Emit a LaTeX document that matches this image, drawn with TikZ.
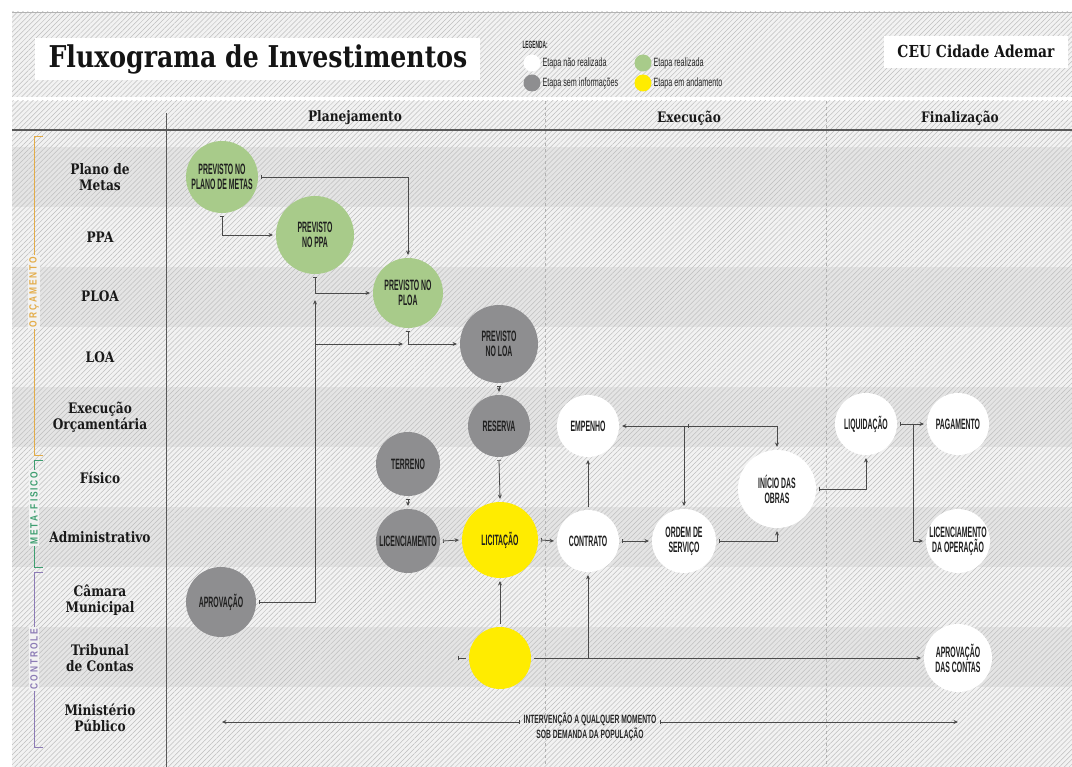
\documentclass[tikz,border=0pt]{standalone}
\usepackage{fontspec}
\setmainfont{DejaVu Serif}
\newfontfamily\hd{DejaVu Serif}[UprightFont=* Bold,FakeStretch=0.84]
\newfontfamily\cnd{Liberation Sans}[UprightFont=* Bold,FakeStretch=0.46]
\newfontfamily\cndm{Liberation Sans}[UprightFont=* Bold,FakeStretch=0.56]
\newfontfamily\cndr{Liberation Sans}[FakeStretch=0.6]
\newfontfamily\spf{Liberation Sans}[UprightFont=* Bold,FakeStretch=0.8,LetterSpace=18]
\usetikzlibrary{arrows.meta,patterns.meta}
\definecolor{cgreen}{HTML}{A8CB8A}
\definecolor{cgray}{HTML}{8E8E90}
\definecolor{cyel}{HTML}{FFEC00}
\definecolor{corange}{HTML}{E3AC48}
\definecolor{cmeta}{HTML}{3E9E70}
\definecolor{cpurp}{HTML}{8C7BB5}
\definecolor{bgl}{HTML}{F2F2F2}
\definecolor{bgd}{HTML}{E4E4E4}
\definecolor{hatch}{HTML}{BEBEBE}
\definecolor{ln}{HTML}{4A4A4A}
\begin{document}
\begin{tikzpicture}[x=1pt,y=-1pt,
  circ/.style={circle,inner sep=0pt,outer sep=3pt,align=center,text=black!88,font=\cnd\fontsize{15}{15}\selectfont},
  gr/.style={circ,fill=cgreen},
  gy/.style={circ,fill=cgray},
  yl/.style={circ,fill=cyel},
  wh/.style={circ,fill=white},
  conn/.style={draw=ln,line width=0.8pt,{Bar[width=4pt,line width=0.7pt]}-{Stealth[length=4.5pt,width=4pt]}},
  plain/.style={draw=ln,line width=0.8pt,-{Stealth[length=4.5pt,width=4pt]}},
  rowlab/.style={font=\hd\fontsize{14.5}{15.5}\selectfont,align=center,text=black!90},
  phase/.style={font=\hd\fontsize{14.5}{15}\selectfont,text=black!90},
  spine/.style={font=\spf\fontsize{10.5}{11}\selectfont,fill=bgl,inner sep=1.5pt,rotate=90},
  leg/.style={font=\cndr\fontsize{12}{12}\selectfont,text=black!85,anchor=west},
  legc/.style={circle,inner sep=0pt,minimum size=17pt},
]
\useasboundingbox (0,0) rectangle (1072,767);
% background
\fill[white] (0,0) rectangle (1072,767);
\fill[bgl] (12,12) rectangle (1072,97);
\fill[bgl] (12,101) rectangle (1072,767);
\foreach \yy in {147,267,387,507,627} \fill[bgd] (12,\yy) rectangle (1072,\yy+60);
\fill[pattern={Lines[angle=45,distance=3.5pt,line width=0.5pt]},pattern color=hatch] (12,12) rectangle (1072,97);
\fill[pattern={Lines[angle=45,distance=3.5pt,line width=0.5pt]},pattern color=hatch] (12,101) rectangle (1072,767);
\draw[gray!60,line width=0.6pt] (12,12) -- (1072,12);
% grid lines
\draw[black!30,dashed,line width=0.5pt] (545,101) -- (545,767);
\draw[black!30,dashed,line width=0.5pt] (826,101) -- (826,767);
\draw[black!65,line width=1.2pt] (12,130) -- (1072,130);
\draw[black!65,line width=1pt] (166,113) -- (166,767);
% title
\fill[white] (35,38) rectangle (480,80);
\node[font=\hd\fontsize{30}{32}\selectfont,text=black!92] (title) at (258,59) {Fluxograma de Investimentos};
\fill[white] (884,36) rectangle (1068,68);
\node[font=\hd\fontsize{16.5}{17}\selectfont,text=black!92] (ceu) at (976,51) {CEU Cidade Ademar};
% legend
\node[font=\cnd\fontsize{10.5}{11}\selectfont,anchor=west,text=black!85] (legt) at (519,45) {LEGENDA:};
\node[legc,fill=white] (l1) at (532,63) {};
\node[leg] (l1t) at (539,63) {Etapa não realizada};
\node[legc,fill=cgray] (l2) at (532,83) {};
\node[leg] (l2t) at (539,83) {Etapa sem informações};
\node[legc,fill=cgreen] (l3) at (643,63) {};
\node[leg] (l3t) at (650,63) {Etapa realizada};
\node[legc,fill=cyel] (l4) at (643,83) {};
\node[leg] (l4t) at (650,83) {Etapa em andamento};
% phases
\node[phase] (ph1) at (355,118) {Planejamento};
\node[phase] (ph2) at (689,118) {Execução};
\node[phase] (ph3) at (960,118) {Finalização};
% spine
\draw[corange,line width=0.9pt] (43,136) -- (34,136) -- (34,455) -- (43,455);
\draw[cmeta,line width=0.9pt] (43,460) -- (34,460) -- (34,567) -- (43,567);
\draw[cpurp,line width=0.9pt] (43,572) -- (34,572) -- (34,747) -- (43,747);
\node[spine,text=corange] (sp1) at (34,292) {ORÇAMENTO};
\node[spine,text=cmeta] (sp2) at (34,508) {META-FISICO};
\node[spine,text=cpurp] (sp3) at (34,659) {CONTROLE};
% row labels
\node[rowlab] (r1) at (100,177) {Plano de\\Metas};
\node[rowlab] (r2) at (100,237) {PPA};
\node[rowlab] (r3) at (100,296) {PLOA};
\node[rowlab] (r4) at (100,357) {LOA};
\node[rowlab] (r5) at (100,417) {Execução\\Orçamentária};
\node[rowlab] (r6) at (100,478) {Físico};
\node[rowlab] (r7) at (100,537) {Administrativo};
\node[rowlab] (r8) at (100,600) {Câmara\\Municipal};
\node[rowlab] (r9) at (100,658) {Tribunal\\de Contas};
\node[rowlab] (r10) at (100,718) {Ministério\\Público};
% circles
\node[gr,minimum size=72pt] (pm) at (222,177) {PREVISTO NO\\PLANO DE METAS};
\node[gr,minimum size=78pt] (ppa) at (315,235) {PREVISTO\\NO PPA};
\node[gr,minimum size=70pt] (ploa) at (408,293) {PREVISTO NO\\PLOA};
\node[gy,minimum size=78pt] (loa) at (499,344) {PREVISTO\\NO LOA};
\node[gy,minimum size=62pt] (res) at (499,426) {RESERVA};
\node[gy,minimum size=64pt] (ter) at (408,464) {TERRENO};
\node[gy,minimum size=64pt] (lic) at (408,541) {LICENCIAMENTO};
\node[yl,minimum size=76pt] (licit) at (500,540) {LICITAÇÃO};
\node[yl,minimum size=62pt] (trib) at (500,658) {};
\node[gy,minimum size=70pt] (aprov) at (221,602) {APROVAÇÃO};
\node[wh,minimum size=62pt] (emp) at (588,426) {EMPENHO};
\node[wh,minimum size=62pt] (con) at (588,541) {CONTRATO};
\node[wh,minimum size=64pt] (ord) at (684,541) {ORDEM DE\\SERVIÇO};
\node[wh,minimum size=78pt] (ini) at (777,489) {INÍCIO DAS\\OBRAS};
\node[wh,minimum size=62pt] (liq) at (866,424) {LIQUIDAÇÃO};
\node[wh,minimum size=62pt] (pag) at (958,424) {PAGAMENTO};
\node[wh,minimum size=62pt] (lop) at (958,541) {LICENCIAMENTO\\DA OPERAÇÃO};
\node[wh,minimum size=68pt] (apc) at (958,658) {APROVAÇÃO\\DAS CONTAS};
% connectors
\draw[conn] (pm.east) -| (ploa.north);
\draw[conn] (pm.south) |- (ppa.west);
\draw[conn] (ppa.south) |- (ploa.west);
\coordinate (ja) at (315,300);
\coordinate (jb) at (315,344);
\coordinate (jc) at (403,344);
\draw[conn] (aprov.east) -| (ja);
\draw[plain] (jb) -- (jc);
\draw[conn] (ploa.south) |- (loa.west);
\draw[conn] (loa.south) -- (res.north);
\draw[conn] (res.south) -- (licit.north);
\draw[conn] (ter.south) -- (lic.north);
\draw[conn] (lic.east) -- (licit.west);
\draw[conn] (licit.east) -- (con.west);
\draw[plain] (trib.north) -- (licit.south);
\coordinate (t0) at (458,658);
\draw[draw=ln,line width=0.8pt,{Bar[width=4pt,line width=0.7pt]}-] (t0) -- (trib.west);
\draw[plain] (trib.east) -- (apc.west);
\coordinate (jd) at (588,658);
\draw[plain] (jd) -- (con.south);
\draw[plain] (con.north) -- (emp.south);
\draw[conn] (con.east) -- (ord.west);
\coordinate (s0) at (689,426);
\coordinate (s1) at (684,426);
\draw[conn] (s0) -- (emp.east);
\draw[plain] (s0) -| (ini.north);
\draw[plain] (s1) -- (ord.north);
\draw[conn] (ord.east) -| (ini.south);
\draw[conn] (ini.east) -| (liq.south);
\draw[conn] (liq.east) -- (pag.west);
\coordinate (je) at (913,424);
\draw[plain] (je) |- (lop.west);
% Ministerio Publico
\node[font=\cndm\fontsize{12}{15}\selectfont,align=center,text=black!85] (mpt) at (590,727) {INTERVENÇÃO A QUALQUER MOMENTO\\SOB DEMANDA DA POPULAÇÃO};
\coordinate (ml) at (222,722);
\coordinate (mr) at (958,722);
\draw[conn] (mpt.west |- ml) -- (ml);
\draw[conn] (mpt.east |- mr) -- (mr);
\end{tikzpicture}
\end{document}
